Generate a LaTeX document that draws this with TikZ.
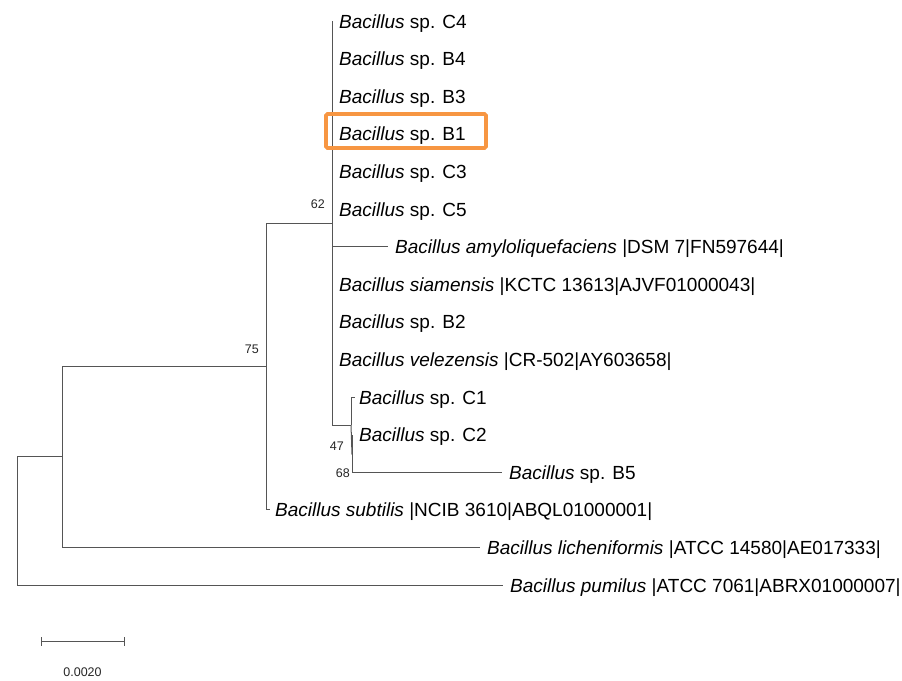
\documentclass[tikz,border=0pt]{standalone}
\usepackage{fontspec}
\setmainfont{Liberation Sans}
\definecolor{hlorange}{RGB}{247,150,66}
\definecolor{branchgray}{RGB}{85,85,85}
\begin{document}
\begin{tikzpicture}[x=1pt,y=-1pt,
  br/.style={draw=branchgray, line width=1pt},
  leaf/.style={anchor=base west, inner sep=0pt, font=\fontsize{19}{22}\selectfont},
  boot/.style={inner sep=0pt, font=\fontsize{12.5}{14}\selectfont, text=black!85},
  hlbox/.style={draw=hlorange, line width=3.6pt, rounded corners=1.5pt, minimum width=160pt, minimum height=34pt, inner sep=0pt}]
\useasboundingbox (0,0) rectangle (902,680);
% internal nodes
\coordinate (root) at (17,456);
\coordinate (nL) at (62,456);
\coordinate (n75) at (266,366);
\coordinate (n62) at (332,223);
\coordinate (n47) at (351,425);
\coordinate (n68) at (352,454.5);
% tips
\coordinate (tC4) at (332,21);
\coordinate (tB4) at (332,58.6);
\coordinate (tB3) at (332,96.2);
\coordinate (tB1) at (332,133.8);
\coordinate (tC3) at (332,171.4);
\coordinate (tC5) at (332,209);
\coordinate (tAmy) at (388,246.6);
\coordinate (tSia) at (332,284.2);
\coordinate (tB2) at (332,321.8);
\coordinate (tVel) at (332,359.4);
\coordinate (tC1) at (355,397);
\coordinate (tC2) at (352,434.6);
\coordinate (tB5) at (502,472.2);
\coordinate (tSub) at (270,509.8);
\coordinate (tLic) at (480,547.4);
\coordinate (tPum) at (503,585);
% branches
\draw[br] (root) |- (tPum);
\draw[br] (root) -- (nL);
\draw[br] (nL) |- (n75);
\draw[br] (nL) |- (tLic);
\draw[br] (n75) |- (n62);
\draw[br] (n75) |- (tSub);
\draw[br] (n62) |- (tC4);
\draw[br] (n62) |- (n47);
\draw[br] (n62) |- (tAmy);
\draw[br] (n47) |- (tC1);
\draw[br] (n47) -- (n68);
\draw[br] (n68) |- (tC2);
\draw[br] (n68) |- (tB5);
% leaf labels
\node[leaf] (lC4) at ([shift={(7,7)}]tC4) {\textit{Bacillus} sp. C4};
\node[leaf] (lB4) at ([shift={(7,7)}]tB4) {\textit{Bacillus} sp. B4};
\node[leaf] (lB3) at ([shift={(7,7)}]tB3) {\textit{Bacillus} sp. B3};
\node[leaf] (lB1) at ([shift={(7,7)}]tB1) {\textit{Bacillus} sp. B1};
\node[leaf] (lC3) at ([shift={(7,7)}]tC3) {\textit{Bacillus} sp. C3};
\node[leaf] (lC5) at ([shift={(7,7)}]tC5) {\textit{Bacillus} sp. C5};
\node[leaf] (lAmy) at ([shift={(7,7)}]tAmy) {\textit{Bacillus amyloliquefaciens} |DSM 7|FN597644|};
\node[leaf] (lSia) at ([shift={(7,7)}]tSia) {\textit{Bacillus siamensis} |KCTC 13613|AJVF01000043|};
\node[leaf] (lB2) at ([shift={(7,7)}]tB2) {\textit{Bacillus} sp. B2};
\node[leaf] (lVel) at ([shift={(7,7)}]tVel) {\textit{Bacillus velezensis} |CR-502|AY603658|};
\node[leaf] (lC1) at ([shift={(4,7)}]tC1) {\textit{Bacillus} sp. C1};
\node[leaf] (lC2) at ([shift={(7,7)}]tC2) {\textit{Bacillus} sp. C2};
\node[leaf] (lB5) at ([shift={(7,7)}]tB5) {\textit{Bacillus} sp. B5};
\node[leaf] (lSub) at ([shift={(5,7)}]tSub) {\textit{Bacillus subtilis} |NCIB 3610|ABQL01000001|};
\node[leaf] (lLic) at ([shift={(7,7)}]tLic) {\textit{Bacillus licheniformis} |ATCC 14580|AE017333|};
\node[leaf] (lPum) at ([shift={(7,7)}]tPum) {\textit{Bacillus pumilus} |ATCC 7061|ABRX01000007|};
% bootstrap values
\node[boot, anchor=east] (b62) at (325,204) {62};
\node[boot, anchor=east] (b75) at (259,349) {75};
\node[boot, anchor=east] (b47) at (344,446) {47};
\node[boot, anchor=east] (b68) at (350,473) {68};
% highlight
\node[hlbox] (hl) at (406,131) {};
% scale bar
\coordinate (sbL) at (41,641);
\coordinate (sbR) at (124,641);
\draw[br] (sbL) -- (sbR);
\draw[br] ([yshift=-4.5pt]sbL) -- ([yshift=4.5pt]sbL);
\draw[br] ([yshift=-4.5pt]sbR) -- ([yshift=4.5pt]sbR);
\node[boot] (sbText) at (82.5,672) {0.0020};
\end{tikzpicture}
\end{document}
